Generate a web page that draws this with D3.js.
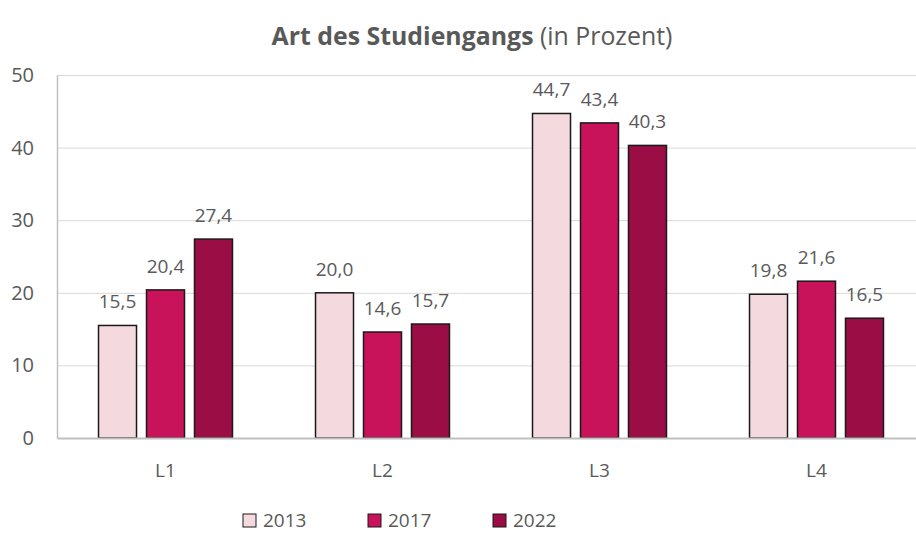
<!DOCTYPE html>
<html><head><meta charset="utf-8">
<script src="https://cdn.jsdelivr.net/npm/d3@7"></script>
<style>body{margin:0;background:#fff}svg{display:block;font-family:"Open Sans",sans-serif}</style>
</head><body>
<svg id="c" width="916" height="533"></svg>
<script>
const categories = ["L1","L2","L3","L4"];
const years = ["2013","2017","2022"];
const values2013 = [15.5, 20.0, 44.7, 19.8];
const values2017 = [20.4, 14.6, 43.4, 21.6];
const values2022 = [27.4, 15.7, 40.3, 16.5];
const yTicks = [0,10,20,30,40,50];
const colors = ["#F4D9DE","#C8125A","#9A0D45"];
const series = [values2013, values2017, values2022];

(function(){
const svg = d3.select("#c");
const W = 916;
const FF = "'Open Sans',sans-serif";
const pLeft = 57, pRight = 925, pTop = 75, pBottom = 438;
const x = d3.scaleBand().domain(categories).range([pLeft, pRight]).paddingInner(0).paddingOuter(0);
const inner = d3.scaleBand().domain(years).range([0, x.bandwidth()]).paddingInner(0.208).paddingOuter(0.865);
const y = d3.scaleLinear().domain([0,50]).range([pBottom, pTop]);
const fmt = v => d3.format(".1f")(v).replace(".", ",");
const txt = "#595959";

// title
const t = svg.append("text").attr("x", 472).attr("y", 45).attr("text-anchor","middle")
  .attr("fill", txt).attr("font-size", 20);
t.append("tspan").attr("font-weight","bold").text("Art des Studiengangs");
t.append("tspan").text(" (in Prozent)");
const tl = t.node().getComputedTextLength();
t.attr("font-size", 20 * 401 / tl);

// gridlines
svg.append("g").selectAll("line").data(yTicks.filter(d=>d>0)).join("line")
  .attr("x1", pLeft).attr("x2", W).attr("y1", d=>y(d)+0.5).attr("y2", d=>y(d)+0.5)
  .attr("stroke","#d9d9d9").attr("stroke-width",1);

// y axis
const ya = svg.append("g").attr("transform",`translate(${pLeft},0)`)
  .call(d3.axisLeft(y).tickValues(yTicks).tickSize(0).tickPadding(23).tickFormat(d=>d));
ya.select(".domain").attr("stroke","#bfbfbf").attr("stroke-width",1.5);
ya.selectAll("text").attr("fill",txt).attr("font-size",20).attr("font-family",FF);

// bars
const groups = svg.append("g").selectAll("g").data(categories).join("g")
  .attr("transform", d=>`translate(${x(d)},0)`);
years.forEach((yr, si) => {
  groups.append("rect")
    .attr("x", inner(yr)).attr("width", inner.bandwidth())
    .attr("y", (d,i)=>y(series[si][i])).attr("height", (d,i)=>pBottom - y(series[si][i]))
    .attr("fill", colors[si]).attr("stroke","#1a1a1a").attr("stroke-width",1.5);
  groups.append("text")
    .attr("x", inner(yr) + inner.bandwidth()/2).attr("y", (d,i)=>y(series[si][i]) - 17)
    .attr("text-anchor","middle").attr("fill", txt).attr("font-size",19)
    .text((d,i)=>fmt(series[si][i]));
});

// x axis
const xa = svg.append("g").attr("transform",`translate(0,${pBottom})`)
  .call(d3.axisBottom(x).tickSize(0).tickPadding(26));
xa.select(".domain").attr("stroke","#bfbfbf").attr("stroke-width",2);
xa.selectAll("text").attr("fill",txt).attr("font-size",19).attr("font-family",FF);

// legend
const legX = [243, 368, 493];
const lg = svg.append("g").selectAll("g").data(years).join("g")
  .attr("transform",(d,i)=>`translate(${legX[i]},514)`);
lg.append("rect").attr("width",13).attr("height",13).attr("fill",(d,i)=>colors[i])
  .attr("stroke","#1a1a1a").attr("stroke-width",1);
lg.append("text").attr("x",20).attr("y",13).attr("fill",txt).attr("font-size",19).text(d=>d);
})();
</script>
</body></html>
